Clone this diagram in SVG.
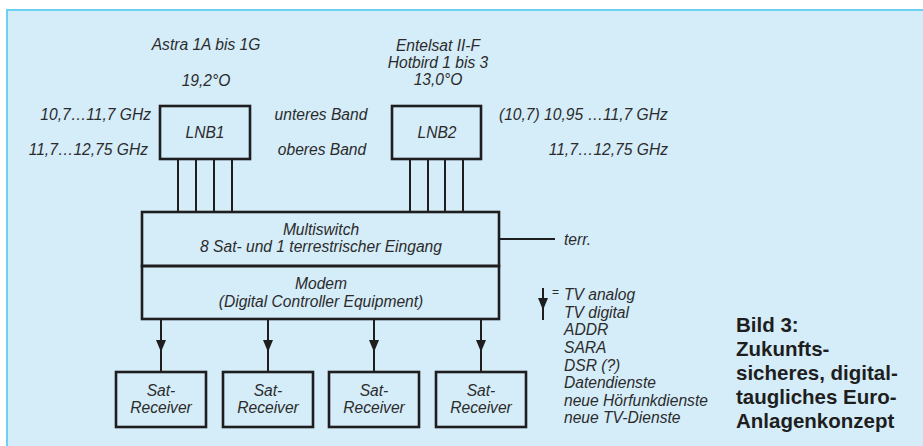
<svg xmlns="http://www.w3.org/2000/svg" width="923" height="446" viewBox="0 0 923 446">
<style>
  .t { font-family: "Liberation Sans", Arial, sans-serif; font-style: italic; font-size: 15.6px; fill: #2b2b2b; }
  .m { text-anchor: middle; }
  .e { text-anchor: end; }
  .box { fill: none; stroke: #1e1e1e; stroke-width: 2.6; }
  .ln { fill: none; stroke: #1e1e1e; stroke-width: 2; }
  .cap { font-family: "Liberation Sans", Arial, sans-serif; font-weight: bold; font-size: 20.5px; fill: #1e1e1e; }
</style>
<defs>
  <marker id="ah" viewBox="0 0 10 12" refX="5" refY="12" markerWidth="10" markerHeight="12" markerUnits="userSpaceOnUse" orient="auto-start-reverse">
    <path d="M0 0 L10 0 L5 12 Z" fill="#1e1e1e"/>
  </marker>
  <marker id="ahm" viewBox="0 0 12 10" refX="12" refY="5" markerWidth="12" markerHeight="10" markerUnits="userSpaceOnUse" orient="auto">
    <path d="M0 0 L12 5 L0 10 Z" fill="#1e1e1e"/>
  </marker>
</defs>
<rect x="7" y="10" width="916" height="436" fill="#d5ecf9"/>
<path d="M7 446 V10 H923" fill="none" stroke="#6bd0f2" stroke-width="2"/>

<g id="sat-astra">
  <text class="t m" x="206" y="50">Astra 1A bis 1G</text>
  <text class="t m" x="206" y="86">19,2°O</text>
</g>
<g id="sat-eutelsat">
  <text class="t m" x="438" y="51">Entelsat II-F</text>
  <text class="t m" x="438" y="68">Hotbird 1 bis 3</text>
  <text class="t m" x="438" y="85">13,0°O</text>
</g>

<g id="lnb1">
  <rect class="box" x="160" y="106" width="90" height="53"/>
  <text class="t m" x="205" y="138">LNB1</text>
  <text class="t e" x="151" y="120">10,7…11,7 GHz</text>
  <text class="t e" x="148" y="155">11,7…12,75 GHz</text>
</g>
<g id="bands">
  <text class="t m" x="321" y="120">unteres Band</text>
  <text class="t m" x="322" y="155">oberes Band</text>
</g>
<g id="lnb2">
  <rect class="box" x="392" y="106" width="89" height="53"/>
  <text class="t m" x="437" y="138">LNB2</text>
  <text class="t" x="499" y="120">(10,7) 10,95 …11,7 GHz</text>
  <text class="t e" x="668" y="155">11,7…12,75 GHz</text>
</g>

<g id="multiswitch">
  <rect class="box" x="142" y="212" width="357" height="54"/>
  <text class="t m" x="321" y="235">Multiswitch</text>
  <text class="t m" x="321" y="252">8 Sat- und 1 terrestrischer Eingang</text>
</g>
<g id="modem">
  <rect class="box" x="142" y="266" width="357" height="53"/>
  <text class="t m" x="321" y="289">Modem</text>
  <text class="t m" x="321" y="307">(Digital Controller Equipment)</text>
</g>
<g id="terr">
  <text class="t" x="564" y="245">terr.</text>
</g>

<g id="receiver1">
  <rect class="box" x="116" y="372" width="90" height="55"/>
  <text class="t m" x="161" y="396">Sat-</text>
  <text class="t m" x="161" y="413">Receiver</text>
</g>
<g id="receiver2">
  <rect class="box" x="223" y="372" width="90" height="55"/>
  <text class="t m" x="268" y="396">Sat-</text>
  <text class="t m" x="268" y="413">Receiver</text>
</g>
<g id="receiver3">
  <rect class="box" x="329" y="372" width="90" height="55"/>
  <text class="t m" x="374" y="396">Sat-</text>
  <text class="t m" x="374" y="413">Receiver</text>
</g>
<g id="receiver4">
  <rect class="box" x="436" y="372" width="90" height="55"/>
  <text class="t m" x="481" y="396">Sat-</text>
  <text class="t m" x="481" y="413">Receiver</text>
</g>

<g id="connectors">
  <path class="ln" d="M178 159 V212 M196 159 V212 M214 159 V212 M232 159 V212"/>
  <path class="ln" d="M410 159 V212 M428 159 V212 M445 159 V212 M463 159 V212"/>
  <path class="ln" d="M499 239 H555"/>
  <path class="ln" d="M161 319 L161 352 L161 372" marker-mid="url(#ahm)"/>
  <path class="ln" d="M268 319 L268 352 L268 372" marker-mid="url(#ahm)"/>
  <path class="ln" d="M374 319 L374 352 L374 372" marker-mid="url(#ahm)"/>
  <path class="ln" d="M481 319 L481 352 L481 372" marker-mid="url(#ahm)"/>
</g>

<g id="legend">
  <path class="ln" d="M543 288 L543 310 L543 320" marker-mid="url(#ahm)"/>
  <text class="t" x="552" y="296" style="font-style:normal;font-size:12px">=</text>
  <text class="t" x="564" y="300">TV analog</text>
  <text class="t" x="564" y="318">TV digital</text>
  <text class="t" x="564" y="335">ADDR</text>
  <text class="t" x="564" y="353">SARA</text>
  <text class="t" x="564" y="371">DSR (?)</text>
  <text class="t" x="564" y="388">Datendienste</text>
  <text class="t" x="564" y="406">neue Hörfunkdienste</text>
  <text class="t" x="564" y="423">neue TV-Dienste</text>
</g>

<g id="caption">
  <text class="cap" x="736" y="332">Bild 3:</text>
  <text class="cap" x="736" y="356">Zukunfts-</text>
  <text class="cap" x="736" y="380">sicheres, digital-</text>
  <text class="cap" x="736" y="404">taugliches Euro-</text>
  <text class="cap" x="736" y="428">Anlagenkonzept</text>
</g>
</svg>
